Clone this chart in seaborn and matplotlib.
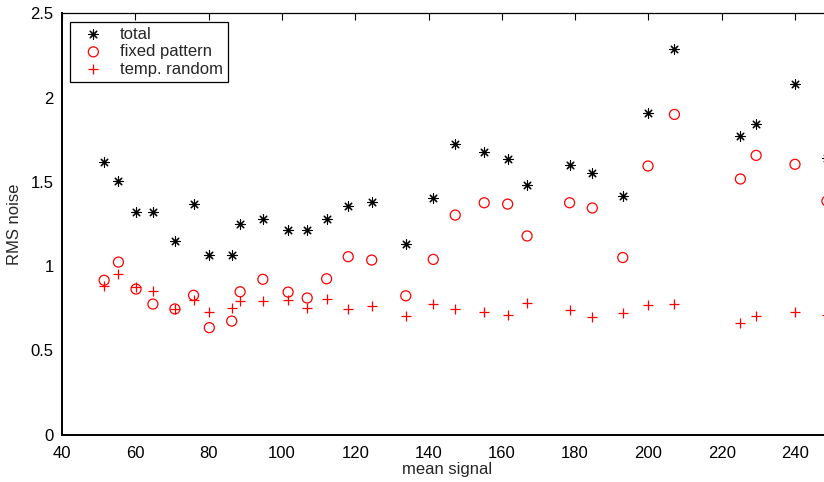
import numpy as np
import pandas as pd
import seaborn as sns
import matplotlib
matplotlib.use("Agg")
import matplotlib.pyplot as plt
from matplotlib.ticker import FuncFormatter

# values
mean_signal = [51.5, 55.4, 60.2, 64.8, 70.8, 75.9, 80.2, 86.3, 88.6, 94.8,
               101.7, 106.9, 112.2, 118.1, 124.5, 133.8, 141.3, 147.3, 155.2, 161.6,
               166.9, 178.5, 184.7, 193.0, 199.9, 207.1, 225.1, 229.4, 240.0, 248.7]
total = [1.619, 1.503, 1.323, 1.323, 1.151, 1.367, 1.066, 1.066, 1.248, 1.278,
         1.212, 1.212, 1.278, 1.356, 1.382, 1.129, 1.402, 1.722, 1.675, 1.633,
         1.481, 1.600, 1.554, 1.416, 1.910, 2.286, 1.772, 1.845, 2.080, 1.643]
fixed_pattern = [0.916, 1.024, 0.864, 0.775, 0.746, 0.827, 0.635, 0.674, 0.848, 0.922,
                 0.846, 0.811, 0.925, 1.056, 1.036, 0.824, 1.040, 1.303, 1.376, 1.368,
                 1.179, 1.376, 1.345, 1.051, 1.594, 1.900, 1.517, 1.657, 1.604, 1.386]
temp_random = [0.884, 0.953, 0.878, 0.852, 0.746, 0.799, 0.726, 0.753, 0.795, 0.795,
               0.801, 0.753, 0.803, 0.744, 0.765, 0.706, 0.773, 0.747, 0.726, 0.708,
               0.781, 0.738, 0.696, 0.724, 0.769, 0.773, 0.664, 0.706, 0.730, 0.710]
x_ticks = [40, 60, 80, 100, 120, 140, 160, 180, 200, 220, 240]
y_ticks = [0, 0.5, 1, 1.5, 2, 2.5]

df = pd.DataFrame({"mean signal": mean_signal, "total": total,
                   "fixed pattern": fixed_pattern, "temp. random": temp_random})

sns.set_style("white")
plt.rcParams['font.family'] = ['Liberation Sans', 'DejaVu Sans']

fig = plt.figure(figsize=(8.24, 4.82), dpi=100)
ax = fig.add_axes([62 / 824, 47.3 / 482, 769.65 / 824, 421.4 / 482])

sns.scatterplot(data=df, x="mean signal", y="total", ax=ax, marker=(8, 2, 0),
                color="black", s=46, linewidth=0.8, label="total")
sns.scatterplot(data=df, x="mean signal", y="fixed pattern", ax=ax, marker="o",
                facecolors="none", edgecolor="red", s=52, linewidth=0.9,
                label="fixed pattern")
sns.scatterplot(data=df, x="mean signal", y="temp. random", ax=ax, marker="+",
                color="red", s=56, linewidth=0.9, label="temp. random")

ax.set_xlim(40, 250)
ax.set_ylim(0, 2.5)
ax.set_xticks(x_ticks)
ax.set_yticks(y_ticks)
ax.yaxis.set_major_formatter(FuncFormatter(lambda v, p: "%g" % v))
ax.tick_params(direction="in", length=5, width=0.8, labelsize=12,
               top=True, right=True, colors="black")
ax.tick_params(axis="x", pad=8)
ax.tick_params(axis="y", pad=6)
for side in ["left", "bottom"]:
    ax.spines[side].set_linewidth(1.4)
for side in ["top", "right"]:
    ax.spines[side].set_linewidth(0.9)
for sp in ax.spines.values():
    sp.set_color("black")

ax.set_xlabel("mean signal", fontsize=12, labelpad=1)
ax.set_ylabel("RMS noise", fontsize=12, labelpad=6)

leg = ax.legend(loc="upper left", bbox_to_anchor=(0.0104, 0.980), borderaxespad=0,
                fontsize=12, fancybox=False, framealpha=1, edgecolor="black",
                handletextpad=0.5, labelspacing=0.15, borderpad=0.3,
                handlelength=2.2)
leg.get_frame().set_linewidth(0.9)

fig.savefig("out.png", dpi=100)
